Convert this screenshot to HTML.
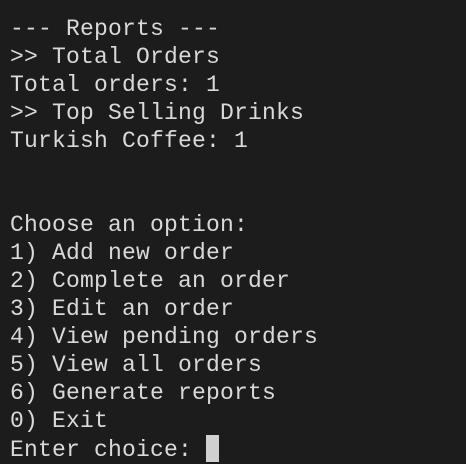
<!DOCTYPE html>
<html><head><style>
html,body{margin:0;padding:0;background:#1c1c1c;}
body{width:466px;height:462px;overflow:hidden;}
pre{margin:0;padding:15px 0 0 10px;font-family:"Liberation Mono","DejaVu Sans Mono",monospace;font-size:23px;line-height:28px;color:#d9d9d9;letter-spacing:0.2px;}
.cur{display:inline-block;width:13px;height:27px;background:#d0d0d0;vertical-align:-6px;}
</style></head><body><pre>--- Reports ---
&gt;&gt; Total Orders
Total orders: 1
&gt;&gt; Top Selling Drinks
Turkish Coffee: 1


Choose an option:
1) Add new order
2) Complete an order
3) Edit an order
4) View pending orders
5) View all orders
6) Generate reports
0) Exit
Enter choice: <span class="cur"></span></pre></body></html>
